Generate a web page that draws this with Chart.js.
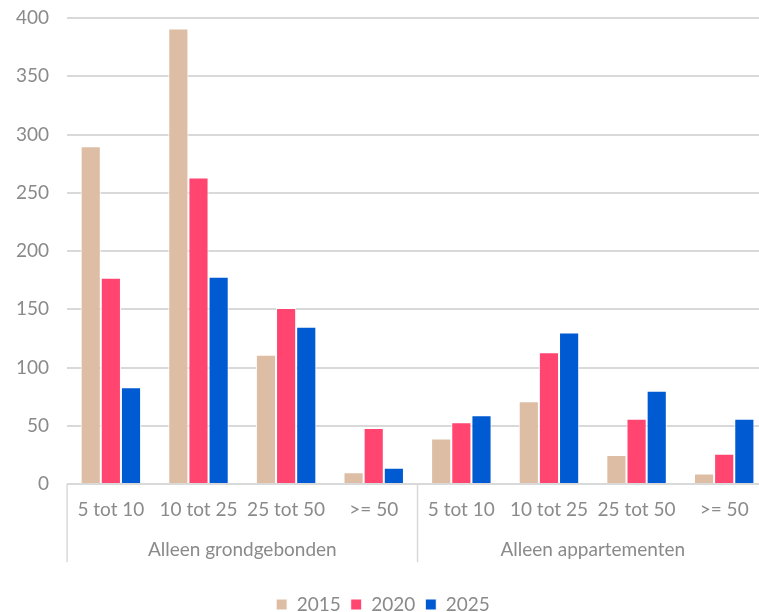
<!DOCTYPE html>
<html>
<head>
<meta charset="utf-8">
<script src="https://cdn.jsdelivr.net/npm/chart.js@4/dist/chart.umd.min.js"></script>
<style>
html,body{margin:0;padding:0;background:#fff;overflow:hidden;}
#wrap{width:790px;height:612px;position:relative;}
</style>
</head>
<body>
<div id="wrap"><canvas id="c"></canvas></div>
<script>
const categories = ['5 tot 10','10 tot 25','25 tot 50','>= 50','5 tot 10','10 tot 25','25 tot 50','>= 50'];
const groups = ['Alleen grondgebonden','Alleen appartementen'];
const seriesNames = ['2015','2020','2025'];
const values2015 = [290, 391, 111, 10, 39, 71, 25, 9];
const values2020 = [177, 263, 151, 48, 53, 113, 56, 26];
const values2025 = [83, 178, 135, 14, 59, 130, 80, 56];
const colors = ['#DDBEA5','#FF4570','#005AD2'];

const FONT = 'Lato, "Noto Sans", sans-serif';
const FS = 19;
const GRAY = '#8a8a8a';
const GRID = '#d9d9d9';
const X2_EXTRA = 21;

const separatorPlugin = {
  id:'separators',
  afterDraw(chart){
    const x = chart.scales.x, x2 = chart.scales.x2;
    const ctx = chart.ctx;
    const n = categories.length;
    const per = n / groups.length;
    const endY = x2.top + x2.options.ticks.padding + FS * 1.2 + 1;
    ctx.save();
    ctx.strokeStyle = GRID;
    ctx.lineWidth = 1.5;
    for(let g=0; g<=groups.length; g++){
      const idx = g*per;
      let px;
      if(idx===0) px = x.left;
      else if(idx>=n) px = x.right;
      else px = (x.getPixelForValue(idx-1)+x.getPixelForValue(idx))/2;
      ctx.beginPath();
      ctx.moveTo(px, chart.chartArea.bottom);
      ctx.lineTo(px, endY);
      ctx.stroke();
    }
    ctx.restore();
  }
};

new Chart(document.getElementById('c'), {
  type:'bar',
  data:{
    labels: categories,
    datasets:[
      {label:seriesNames[0], data:values2015, backgroundColor:colors[0], borderColor:'#ffffff', borderWidth:1},
      {label:seriesNames[1], data:values2020, backgroundColor:colors[1], borderColor:'#ffffff', borderWidth:1},
      {label:seriesNames[2], data:values2025, backgroundColor:colors[2], borderColor:'#ffffff', borderWidth:1}
    ]
  },
  options:{
    responsive:true,
    maintainAspectRatio:false,
    animation:false,
    layout:{padding:{left:-2,right:22,top:0,bottom:-12}},
    datasets:{bar:{categoryPercentage:0.69, barPercentage:1}},
    plugins:{
      legend:{
        position:'bottom',
        labels:{font:{family:FONT,size:FS}, color:GRAY, boxWidth:11, boxHeight:11, padding:10}
      },
      tooltip:{enabled:false}
    },
    scales:{
      y:{
        min:0,max:400,
        ticks:{stepSize:50, font:{family:FONT,size:FS}, color:GRAY, padding:18},
        grid:{color:GRID, lineWidth:2, drawTicks:false},
        border:{display:false},
        afterFit(scale){ scale.paddingTop = 18; }
      },
      x:{
        ticks:{font:{family:FONT,size:FS}, color:GRAY, padding:14.5, maxRotation:0, autoSkip:false},
        grid:{display:false, drawTicks:false},
        border:{display:false}
      },
      x2:{
        type:'category',
        position:'bottom',
        labels: groups,
        ticks:{font:{family:FONT,size:FS}, color:GRAY, padding:2.7},
        grid:{display:false, drawTicks:false},
        border:{display:false},
        afterFit(scale){ scale.height += X2_EXTRA; }
      }
    }
  },
  plugins:[separatorPlugin]
});
</script>
</body>
</html>
